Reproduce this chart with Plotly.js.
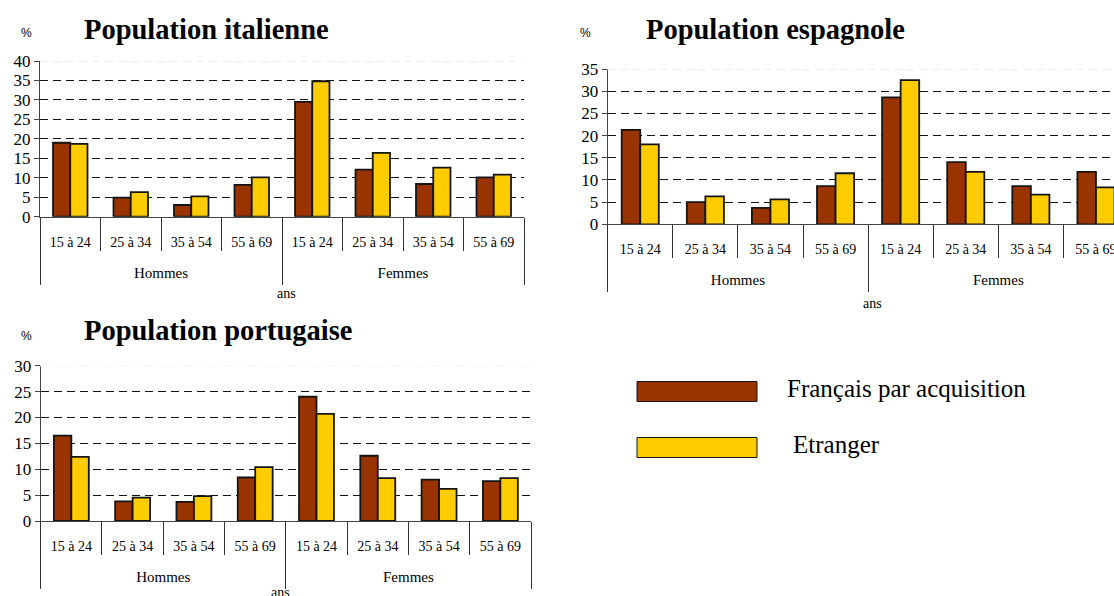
<!DOCTYPE html>
<html><head><meta charset="utf-8">
<script src="https://cdn.plot.ly/plotly-3.0.1.min.js"></script>
<style>html,body{margin:0;padding:0;background:#fff}#chart{width:1114px;height:596px}</style>
</head><body><div id="chart"></div>
<script>
const groups = ['Hommes','Hommes','Hommes','Hommes','Femmes','Femmes','Femmes','Femmes'];
const ages = ['15 à 24','25 à 34','35 à 54','55 à 69','15 à 24','25 à 34','35 à 54','55 à 69'];
const seriesNames = ['Français par acquisition','Etranger'];
const titles = ['Population italienne','Population espagnole','Population portugaise'];
const ita_fr = [19.0, 4.9, 3.0, 8.2, 29.5, 12.1, 8.4, 10.1];
const ita_et = [18.7, 6.3, 5.2, 10.1, 34.8, 16.4, 12.6, 10.8];
const esp_fr = [21.3, 5.0, 3.7, 8.6, 28.6, 14.0, 8.6, 11.8];
const esp_et = [18.0, 6.3, 5.6, 11.5, 32.5, 11.8, 6.7, 8.3];
const por_fr = [16.5, 3.8, 3.7, 8.4, 24.0, 12.6, 8.0, 7.7];
const por_et = [12.4, 4.5, 4.8, 10.4, 20.7, 8.3, 6.2, 8.3];
const yMax = [40, 35, 30];

const W = 1114, H = 596;
const px = v => v / W, py = v => 1 - v / H;
const RED = '#993300', YEL = '#FFCC00', EDGE = '#151515';
const serif = 'Liberation Serif, Times New Roman, serif';
const sans = 'Liberation Sans, Arial, sans-serif';

// category positions derived from the arrays
const idx = ages.map((_, i) => i);
const ageBounds = ages.map((_, i) => i - 0.5).concat([ages.length - 0.5]);
const groupNames = groups.filter((g, i) => groups.indexOf(g) === i);
const groupCenters = groupNames.map(g => {
  const ii = idx.filter(i => groups[i] === g); return (ii[0] + ii[ii.length - 1]) / 2;
});
const groupBounds = [-0.5].concat(groupNames.map(g => {
  const ii = idx.filter(i => groups[i] === g); return ii[ii.length - 1] + 0.5;
}));

const data = [];
const sets = [[ita_fr, ita_et], [esp_fr, esp_et], [por_fr, por_et]];
sets.forEach((s, i) => {
  const xa = i === 0 ? 'x' : 'x' + (i + 1), ya = i === 0 ? 'y' : 'y' + (i + 1);
  s.forEach((vals, j) => {
    data.push({type: 'bar', x: idx, y: vals, name: seriesNames[j], xaxis: xa, yaxis: ya,
      hovertext: ages.map((a, k) => groups[k] + ' ' + a), hoverinfo: 'text+y',
      showlegend: false, marker: {color: j === 0 ? RED : YEL, line: {color: EDGE, width: 1.8}}});
  });
  // carrier trace for the group-level axis (invisible)
  data.push({type: 'scatter', mode: 'markers', x: groupCenters, y: groupCenters.map(() => 0),
    xaxis: 'x' + (i + 4), yaxis: ya, marker: {opacity: 0, size: 1}, hoverinfo: 'skip', showlegend: false});
});

function xax(domain, range, anchor) {
  return {type: 'linear', domain: domain, range: range, anchor: anchor,
    tickmode: 'array', tickvals: idx, ticktext: ages, ticks: '', ticklabeloverflow: 'allow',
    minor: {tickmode: 'array', tickvals: ageBounds, ticks: 'outside', ticklen: 33, tickcolor: '#333', tickwidth: 1, showgrid: false},
    showline: true, linecolor: '#444', linewidth: 1, ticklabelstandoff: 12,
    tickfont: {family: serif, size: 14, color: '#000'}, showgrid: false, zeroline: false, fixedrange: true};
}
function gax(over, range, anchor) {
  return {type: 'linear', overlaying: over, anchor: anchor, side: 'bottom', range: range,
    tickmode: 'array', tickvals: groupCenters, ticktext: groupNames, ticks: '', ticklabeloverflow: 'allow',
    minor: {tickmode: 'array', tickvals: groupBounds, ticks: 'outside', ticklen: 67, tickcolor: '#333', tickwidth: 1, showgrid: false},
    showline: false, ticklabelstandoff: 45,
    tickfont: {family: serif, size: 15, color: '#000'}, showgrid: false, zeroline: false, fixedrange: true};
}
function yax(domain, max, anchor) {
  return {domain: domain, range: [0, max], dtick: 5, tick0: 0, ticks: 'outside', ticklen: 5, tickcolor: '#444',
    showline: true, linecolor: '#444', linewidth: 1, showgrid: true, gridcolor: '#111', gridwidth: 1,
    griddash: '8px,5px', zeroline: false, anchor: anchor, tickfont: {family: serif, size: 17, color: '#000'},
    fixedrange: true};
}

const r1 = [-0.5, 7.5], r2 = [-0.5, 7.277], r3 = [-0.5, 7.5];
const layout = {
  width: W, height: H, margin: {l: 0, r: 0, t: 0, b: 0}, paper_bgcolor: '#fff', plot_bgcolor: 'rgba(0,0,0,0)',
  barmode: 'group', bargap: 0.43, bargroupgap: 0, showlegend: false,
  font: {family: serif, color: '#000'},
  xaxis: xax([px(40), px(524)], r1, 'y'),
  yaxis: yax([py(216.7), py(61)], yMax[0], 'x'),
  xaxis2: xax([px(607.7), 1], r2, 'y2'),
  yaxis2: yax([py(224.3), py(69)], yMax[1], 'x2'),
  xaxis3: xax([px(40.7), px(531)], r3, 'y3'),
  yaxis3: yax([py(521), py(365.7)], yMax[2], 'x3'),
  xaxis4: gax('x', r1, 'y'),
  xaxis5: gax('x2', r2, 'y2'),
  xaxis6: gax('x3', r3, 'y3'),
  shapes: [], annotations: []
};

['x', 'x2', 'x3'].forEach((xa, i) => {
  const ya = i === 0 ? 'y' : 'y' + (i + 1);
  layout.shapes.push({type: 'line', xref: xa + ' domain', x0: 0, x1: 1, yref: ya, y0: yMax[i], y1: yMax[i],
    line: {color: '#ffffff', width: 3}, layer: 'above'});
  layout.shapes.push({type: 'line', xref: xa + ' domain', x0: 0, x1: 1, yref: ya, y0: yMax[i], y1: yMax[i],
    line: {color: '#dddddd', width: 1, dash: '8px,5px'}, layer: 'above'});
});

const titlePos = [[82, 30], [644, 30], [82, 331]];
const pctPos = [[26, 33], [585, 33], [26, 336]];
const ansPos = [[286, 293], [872, 303], [280, 592]];
titles.forEach((t, i) => {
  layout.annotations.push({xref: 'paper', yref: 'paper', x: px(titlePos[i][0]), y: py(titlePos[i][1]),
    xanchor: 'left', yanchor: 'middle', text: '<b>' + t + '</b>', showarrow: false,
    font: {family: serif, size: 28.5, color: '#000'}});
  layout.annotations.push({xref: 'paper', yref: 'paper', x: px(pctPos[i][0]), y: py(pctPos[i][1]),
    xanchor: 'center', yanchor: 'middle', text: '%', showarrow: false, font: {family: sans, size: 12, color: '#000'}});
  layout.annotations.push({xref: 'paper', yref: 'paper', x: px(ansPos[i][0]), y: py(ansPos[i][1]),
    xanchor: 'center', yanchor: 'middle', text: 'ans', showarrow: false, font: {family: serif, size: 14, color: '#000'}});
});

// legend
const legColors = [RED, YEL];
const legY = [391.5, 447.5];
const legTextX = [785, 791];
seriesNames.forEach((n, j) => {
  layout.shapes.push({type: 'rect', xref: 'paper', yref: 'paper', x0: px(637), x1: px(757),
    y0: py(legY[j] + 10), y1: py(legY[j] - 10), fillcolor: legColors[j], line: {color: EDGE, width: 1}});
  layout.annotations.push({xref: 'paper', yref: 'paper', x: px(legTextX[j]), y: py(legY[j] - 3),
    xanchor: 'left', yanchor: 'middle', text: n, showarrow: false, font: {family: serif, size: 25, color: '#000'}});
});

Plotly.newPlot('chart', data, layout, {staticPlot: true, displayModeBar: false});
</script></body></html>
